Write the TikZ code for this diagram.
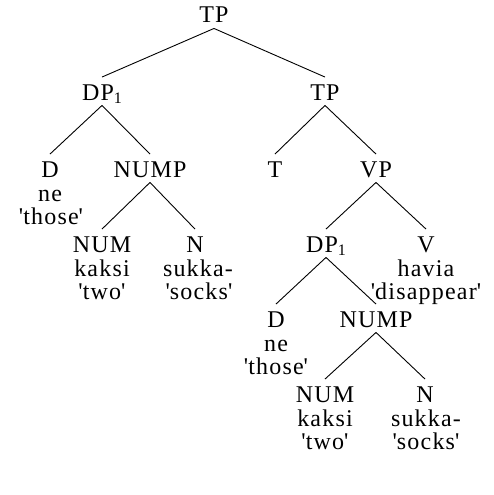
\documentclass[tikz,border=0pt]{standalone}
\usepackage{fontspec}
\setmainfont{Liberation Serif}[LetterSpace=5]
\newcommand{\sq}{\textquotesingle}
\newcommand{\subone}{\raisebox{-3.5pt}[0pt][0pt]{\fontsize{16}{16}\selectfont 1}}
\begin{document}
\begin{tikzpicture}[x=1pt, y=-1pt, line width=0.9pt,
  cat/.style={font=\fontsize{24}{24}\selectfont, anchor=base, inner xsep=0pt,
    inner ysep=5pt, text height=17.5pt, text depth=0pt},
  gloss/.style={font=\fontsize{24}{24}\selectfont, anchor=base, inner sep=0pt}]
\useasboundingbox (0,0) rectangle (494,495);

% upper tree
\node[cat] (tp0) at (214,23) {TP};
\node[cat] (dpa) at (102,100) {DP\subone};
\node[cat] (tpb) at (325,100) {TP};

% left subject DP
\node[cat] (da) at (50,177) {D};
\node[gloss] (da1) at (50,201.5) {ne};
\node[gloss] (da2) at (51,224) {\sq those\sq};
\node[cat] (numpa) at (150,177) {NUMP};
\node[cat] (numa) at (102,252) {NUM};
\node[gloss] (numa1) at (102,276.5) {kaksi};
\node[gloss] (numa2) at (102,299) {\sq two\sq};
\node[cat] (na) at (195,252) {N};
\node[gloss] (na1) at (198,276.5) {sukka-};
\node[gloss] (na2) at (199,299) {\sq socks\sq};

% T and VP
\node[cat] (t) at (275,177) {T};
\node[cat] (vp) at (376,177) {VP};
\node[cat] (dpb) at (326,252) {DP\subone};
\node[cat] (v) at (426,252) {V};
\node[gloss] (v1) at (426,276.5) {havia};
\node[gloss] (v2) at (426,299) {\sq disappear\sq};

% lower DP
\node[cat] (db) at (276,327) {D};
\node[gloss] (db1) at (276,351.5) {ne};
\node[gloss] (db2) at (276,374) {\sq those\sq};
\node[cat] (numpb) at (376,327) {NUMP};
\node[cat] (numb) at (325,402) {NUM};
\node[gloss] (numb1) at (325,426.5) {kaksi};
\node[gloss] (numb2) at (325,449) {\sq two\sq};
\node[cat] (nb) at (425,402) {N};
\node[gloss] (nb1) at (426,426.5) {sukka-};
\node[gloss] (nb2) at (426,449) {\sq socks\sq};

% branches
\draw (tp0.south) -- (dpa.north);
\draw (tp0.south) -- (tpb.north);
\draw (dpa.south) -- (da.north);
\draw (dpa.south) -- (numpa.north);
\draw (numpa.south) -- (numa.north);
\draw (numpa.south) -- (na.north);
\draw (tpb.south) -- (t.north);
\draw (tpb.south) -- (vp.north);
\draw (vp.south) -- (dpb.north);
\draw (vp.south) -- (v.north);
\draw (dpb.south) -- (db.north);
\draw (dpb.south) -- (numpb.north);
\draw (numpb.south) -- (numb.north);
\draw (numpb.south) -- (nb.north);
\end{tikzpicture}
\end{document}
